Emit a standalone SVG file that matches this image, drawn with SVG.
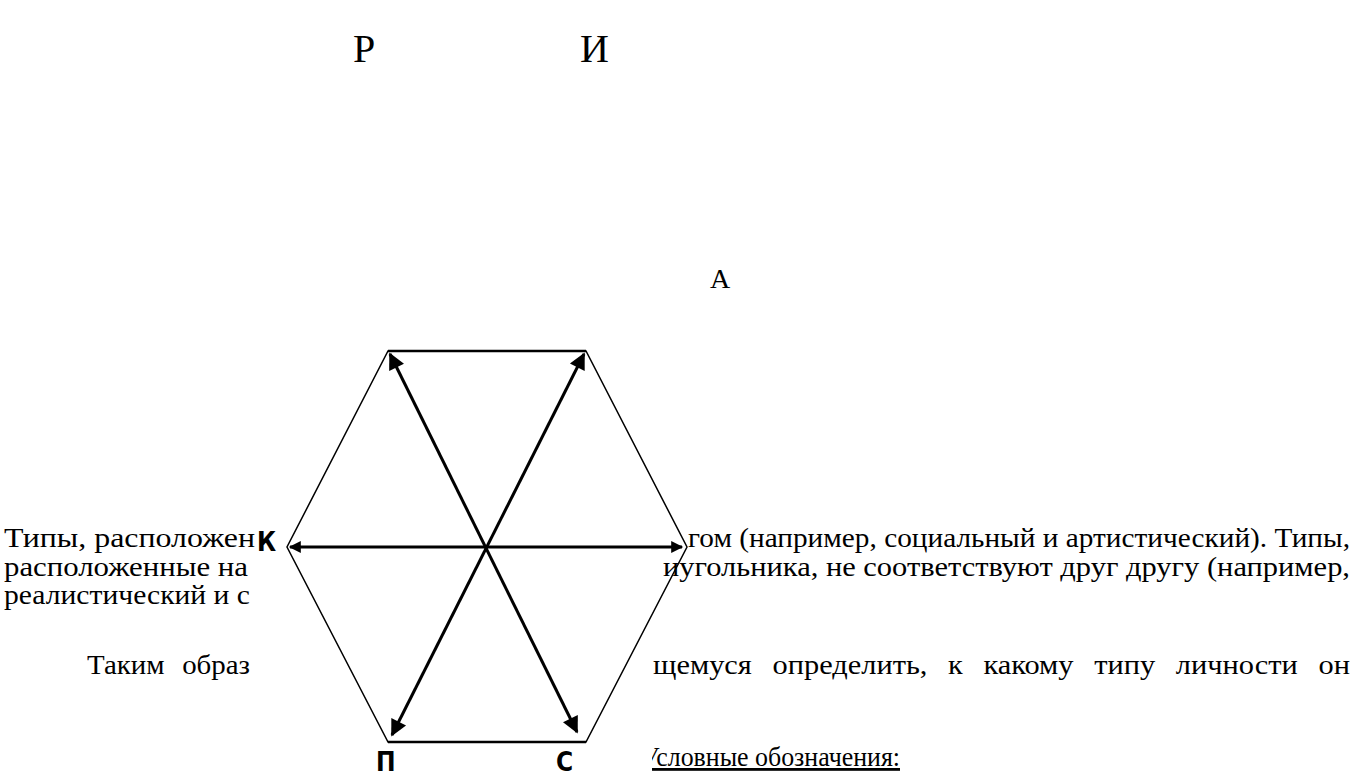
<svg xmlns="http://www.w3.org/2000/svg" width="1368" height="776" viewBox="0 0 1368 776">
<defs>
<marker id="ah" viewBox="0 0 10 10" refX="9" refY="5" markerWidth="6.5" markerHeight="5.5" orient="auto-start-reverse" markerUnits="strokeWidth">
<path d="M0,0 L10,5 L0,10 z" fill="#000"/>
</marker>
<marker id="ah2" viewBox="0 0 10 10" refX="9" refY="5" markerWidth="5" markerHeight="4" orient="auto-start-reverse" markerUnits="strokeWidth">
<path d="M0,0 L10,5 L0,10 z" fill="#000"/>
</marker>
<clipPath id="legclip"><rect x="652" y="730" width="400" height="46"/></clipPath>
</defs>
<style>
.t{font-family:"Liberation Serif","Times New Roman",serif;font-size:28px;fill:#000}
.big{font-family:"Liberation Serif","Times New Roman",serif;font-size:40px;fill:#000}
.lab{font-family:"DejaVu Sans Condensed","Liberation Sans Narrow","DejaVu Sans",sans-serif;font-weight:bold;font-size:26px;fill:#000}
.edge{fill:none;stroke:#000;stroke-width:1.5}
.conn{stroke:#000;stroke-width:3;fill:none}
</style>
<rect width="1368" height="776" fill="#fff"/>
<g id="title">
<text class="big" x="353" y="62">Р</text>
<text class="big" x="580" y="62">И</text>
</g>
<g id="node-A"><text class="t" x="710" y="288">А</text></g>
<g id="body-text">
<text class="t" x="4" y="547" textLength="251" lengthAdjust="spacingAndGlyphs">Типы, расположен</text>
<text class="t" x="688" y="547" textLength="662" lengthAdjust="spacingAndGlyphs">гом (например, социальный и артистический). Типы,</text>
<text class="t" x="4" y="576" textLength="244" lengthAdjust="spacingAndGlyphs">расположенные на</text>
<text class="t" x="663" y="576" textLength="687" lengthAdjust="spacingAndGlyphs">иугольника, не соответствуют друг другу (например,</text>
<text class="t" x="4" y="604" textLength="246" lengthAdjust="spacingAndGlyphs">реалистический и с</text>
<text class="t" x="87" y="674" word-spacing="10" textLength="163" lengthAdjust="spacingAndGlyphs">Таким образ</text>
<text class="t" x="653" y="674" word-spacing="12" textLength="697" lengthAdjust="spacingAndGlyphs">щемуся определить, к какому типу личности он</text>
<text class="t" x="641" y="766" textLength="259" lengthAdjust="spacingAndGlyphs" text-decoration="underline" clip-path="url(#legclip)">Условные обозначения:</text>
</g>
<g id="hexagon">
<polygon class="edge" points="388,351 586,351 687,547 586,742 388,742 287,547"/>
<line x1="388" y1="351" x2="586" y2="351" stroke="#000" stroke-width="2.5"/>
<line x1="388" y1="742" x2="586" y2="742" stroke="#000" stroke-width="2.5"/>
</g>
<g id="connectors">
<line class="conn" x1="290" y1="547" x2="682" y2="547" stroke-width="4" marker-start="url(#ah2)" marker-end="url(#ah2)"/>
<line class="conn" x1="390" y1="354" x2="577" y2="732" marker-start="url(#ah)" marker-end="url(#ah)"/>
<line class="conn" x1="584" y1="354" x2="392" y2="735" marker-start="url(#ah)" marker-end="url(#ah)"/>
</g>
<g id="node-K"><text class="lab" x="257" y="551">К</text></g>
<g id="node-P"><text class="lab" x="376" y="771">П</text></g>
<g id="node-C"><text class="lab" x="556" y="771">С</text></g>
</svg>
